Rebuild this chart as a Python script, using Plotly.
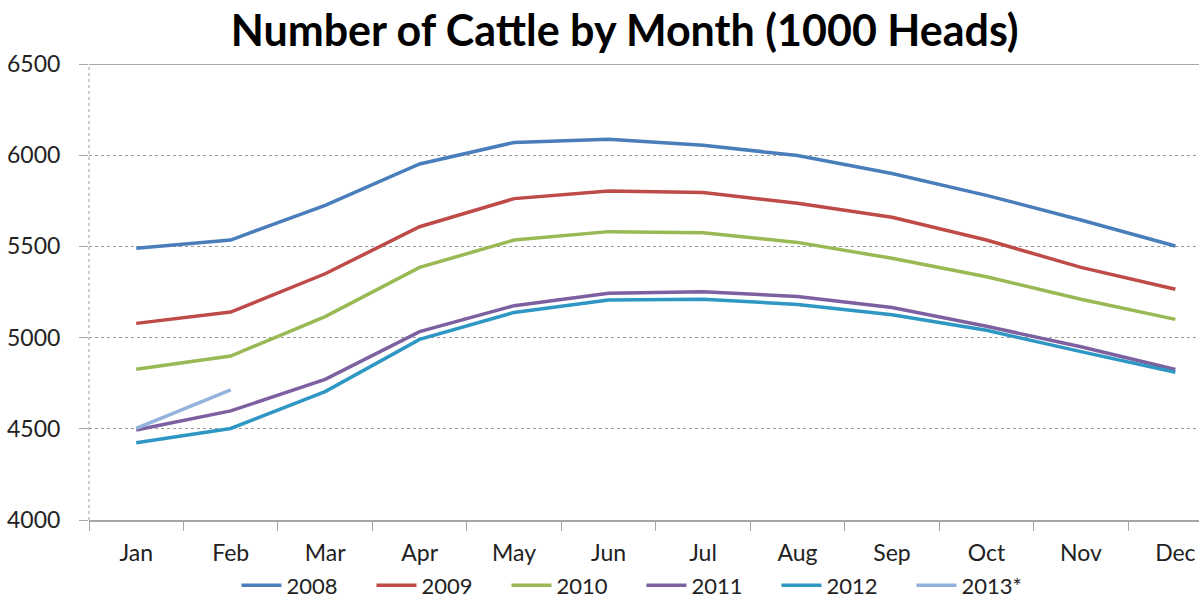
import plotly.graph_objects as go

months = ["Jan", "Feb", "Mar", "Apr", "May", "Jun", "Jul", "Aug", "Sep", "Oct", "Nov", "Dec"]
y2008 = [5490, 5535, 5725, 5952, 6070, 6087, 6055, 5998, 5900, 5780, 5645, 5502]
y2009 = [5078, 5140, 5350, 5608, 5762, 5804, 5795, 5736, 5660, 5535, 5385, 5265]
y2010 = [4826, 4899, 5115, 5385, 5535, 5581, 5575, 5522, 5435, 5334, 5210, 5100]
y2011 = [4493, 4598, 4771, 5033, 5175, 5243, 5252, 5225, 5165, 5062, 4950, 4825]
y2012 = [4424, 4502, 4704, 4990, 5138, 5206, 5210, 5182, 5125, 5040, 4923, 4810]
y2013 = [4502, 4713]
series_names = ["2008", "2009", "2010", "2011", "2012", "2013*"]
series_values = [y2008, y2009, y2010, y2011, y2012, y2013]
colors = ["#4A7EBB", "#BE4B48", "#98B954", "#7D60A0", "#2E97C4", "#93B3DD"]
yticks = [4000, 4500, 5000, 5500, 6000, 6500]

FONT = "Lato"
fig = go.Figure()
for name, vals, col in zip(series_names, series_values, colors):
    fig.add_trace(go.Scatter(x=months[:len(vals)], y=vals, name=name, mode="lines",
                             line=dict(color=col, width=3.5)))

fig.update_layout(
    width=1199, height=601,
    margin=dict(l=89, r=0, t=64, b=81, pad=0, autoexpand=False),
    paper_bgcolor="white", plot_bgcolor="white",
    title=dict(text="<b>Number of Cattle by Month (1000 Heads)</b>",
               x=0.521, xref="container", xanchor="center",
               y=0.949, yref="container", yanchor="middle",
               font=dict(family=FONT, size=43, color="black")),
    font=dict(family=FONT, size=23, color="#222"),
    showlegend=True,
    legend=dict(orientation="h", x=0.535, xref="container", xanchor="center",
                y=0.026, yref="container", yanchor="middle",
                font=dict(family=FONT, size=22, color="#222"),
                entrywidth=80, entrywidthmode="pixels", itemwidth=40,
                traceorder="normal", bgcolor="rgba(0,0,0,0)"),
    xaxis=dict(type="category", categoryorder="array", categoryarray=months,
               range=[-0.5, 11.25], showgrid=False, zeroline=False,
               showline=True, linecolor="#a6a6a6", linewidth=2,
               ticks="outside", tickson="boundaries", ticklen=9, tickcolor="#a6a6a6",
               tickwidth=1, ticklabelstandoff=11,
               tickfont=dict(family=FONT, size=23, color="#222")),
    yaxis=dict(range=[4000, 6500], tickvals=yticks, showgrid=True,
               gridcolor="#9a9a9a", griddash="dot", gridwidth=1,
               zeroline=False, showline=False,
               ticks="outside", ticklen=9, tickcolor="#a6a6a6",
               ticklabelstandoff=14,
               tickfont=dict(family=FONT, size=23, color="#222")),
)
# solid top border line at 6500 and dotted vertical axis line
fig.add_shape(type="line", xref="paper", yref="y", x0=0, x1=1, y0=6500, y1=6500,
              line=dict(color="#a6a6a6", width=2))
fig.add_shape(type="line", xref="paper", yref="paper", x0=0, x1=0, y0=0, y1=1,
              line=dict(color="#9a9a9a", width=1, dash="dot"))

fig.write_html("out.html")
